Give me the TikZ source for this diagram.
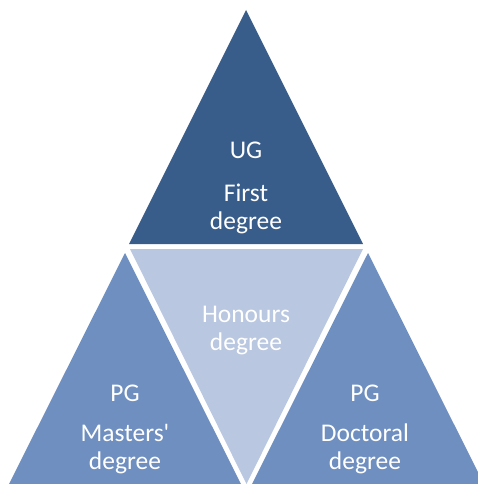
\documentclass[tikz,border=0pt]{standalone}
\usepackage{fontspec}
\setmainfont{Carlito}[Ligatures=TeXOff]
\definecolor{topblue}{RGB}{56,93,138}
\definecolor{sideblue}{RGB}{110,143,192}
\definecolor{midblue}{RGB}{186,199,224}
\tikzset{
  lbl/.style={text=white, align=center, font=\fontsize{25.5}{28}\selectfont, anchor=base, inner sep=0pt}
}
\begin{document}
\begin{tikzpicture}[x=1pt,y=-1pt]
\useasboundingbox (0,0) rectangle (478,484);
\begin{scope}
\clip (0,0) rectangle (478,484);
\fill[topblue] (246,10) -- (129,244) -- (363,244) -- cycle;
\fill[midblue] (130,249) -- (363,249) -- (246.5,484) -- cycle;
\fill[sideblue] (125,253) -- (9,484) -- (241,484) -- cycle;
\fill[sideblue] (368,253) -- (252,484) -- (484,484) -- cycle;
\end{scope}
\node[lbl] (ug) at (246,158) {UG};
\node[lbl] (first) at (246,201) {First};
\node[lbl] (deg1) at (246,229) {degree};
\node[lbl] (hon) at (246,322) {Honours};
\node[lbl] (deg2) at (246,350) {degree};
\node[lbl] (pg1) at (125,401) {PG};
\node[lbl] (mas) at (125,441) {Masters'};
\node[lbl] (deg3) at (125,469) {degree};
\node[lbl] (pg2) at (365,401) {PG};
\node[lbl] (doc) at (365,441) {Doctoral};
\node[lbl] (deg4) at (365,469) {degree};
\end{tikzpicture}
\end{document}
